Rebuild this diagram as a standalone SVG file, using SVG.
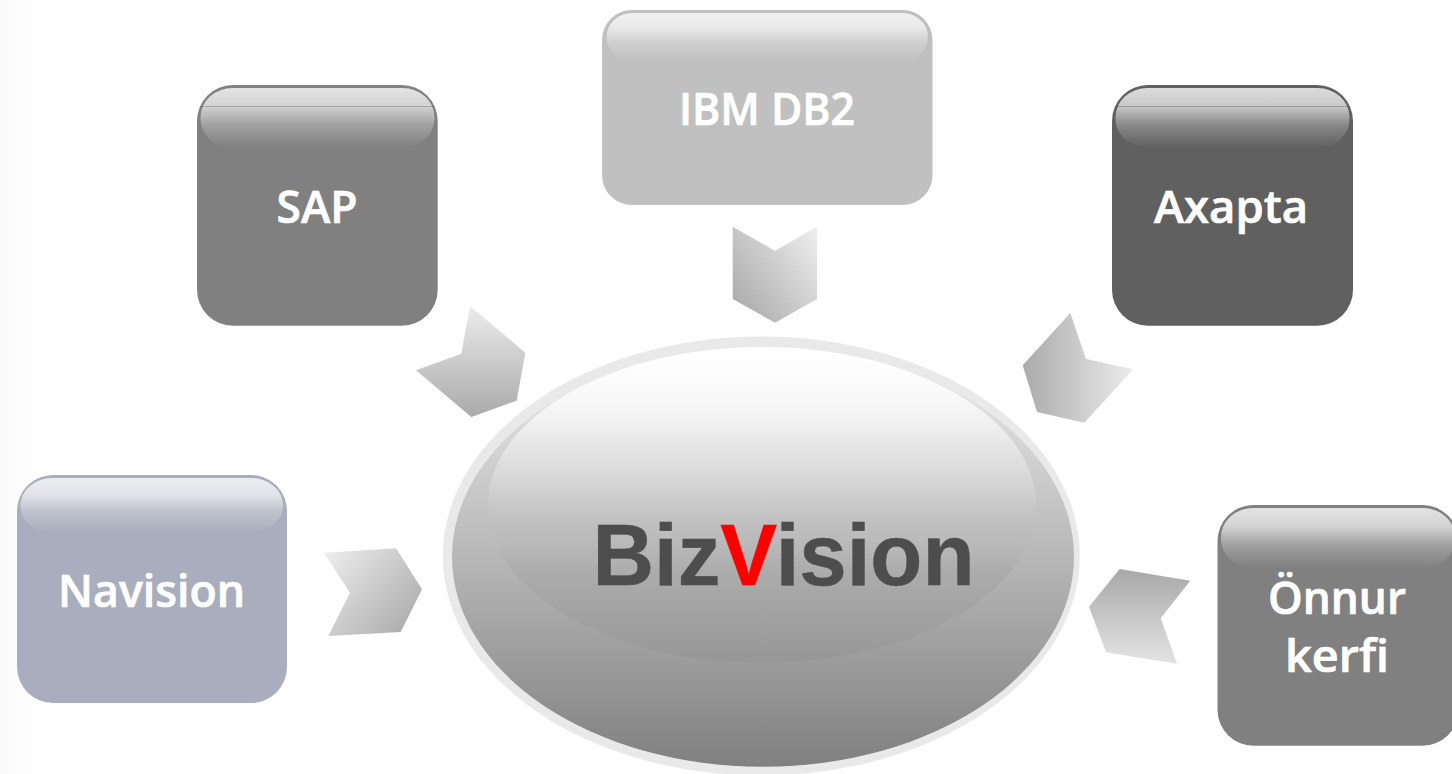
<svg xmlns="http://www.w3.org/2000/svg" width="1452" height="774" viewBox="0 0 1452 774">
<style>
.label{font-family:"Open Sans","Noto Sans","Liberation Sans",sans-serif;font-weight:600;font-size:45px;fill:#fff;stroke:#fff;stroke-width:.7;text-anchor:start}
.brand{font-family:"Liberation Sans",Arial,sans-serif;font-weight:700;font-size:86.5px;fill:#4d4d4d;stroke:#4d4d4d;stroke-width:.5}
.brand tspan{fill:#ff0000;stroke:#ff0000}
.gloss{fill:url(#gloss)}
.rule{stroke:#000;stroke-opacity:.22;stroke-width:1}
</style>
<defs>
<linearGradient id="page" x1="0" x2="1" y1="0" y2="0"><stop offset="0" stop-color="#fafafa"/><stop offset="1" stop-color="#fff"/></linearGradient>
<linearGradient id="gloss" x1="0" x2="0" y1="0" y2="1"><stop offset="0" stop-color="#fff" stop-opacity=".78"/><stop offset=".3" stop-color="#fff" stop-opacity=".66"/><stop offset=".62" stop-color="#fff" stop-opacity=".25"/><stop offset="1" stop-color="#fff" stop-opacity="0"/></linearGradient>
<linearGradient id="main" x1="0" x2="0" y1="0" y2="1"><stop offset="0" stop-color="#eee"/><stop offset="1" stop-color="#808080"/></linearGradient>
<linearGradient id="lens" x1="0" x2="0" y1="0" y2="1"><stop offset="0" stop-color="#fff"/><stop offset=".168" stop-color="#fff" stop-opacity=".77"/><stop offset=".326" stop-color="#fff" stop-opacity=".39"/><stop offset=".484" stop-color="#fff" stop-opacity=".1"/><stop offset=".61" stop-color="#888" stop-opacity=".02"/><stop offset=".705" stop-color="#000" stop-opacity=".04"/><stop offset="1" stop-color="#000" stop-opacity=".03"/></linearGradient>
<linearGradient id="aSap" x1="0" x2="0" y1="0" y2="1"><stop offset="0" stop-color="#ececec"/><stop offset="1" stop-color="#aaa"/></linearGradient>
<linearGradient id="aIbm" x1="1" x2="0" y1="0.1" y2="0.9"><stop offset="0" stop-color="#ececec"/><stop offset="1" stop-color="#a8a8a8"/></linearGradient>
<linearGradient id="aAxa" x1="1" x2="0" y1="0" y2="0"><stop offset="0" stop-color="#ececec"/><stop offset="1" stop-color="#aaa"/></linearGradient>
<linearGradient id="aNav" x1="0" x2="1" y1="0.1" y2="0.9"><stop offset="0" stop-color="#ececec"/><stop offset="1" stop-color="#a8a8a8"/></linearGradient>
<linearGradient id="aOnn" x1="0" x2="0" y1="0" y2="1"><stop offset="0" stop-color="#a8a8a8"/><stop offset="1" stop-color="#e4e4e4"/></linearGradient>
</defs>
<rect id="page-bg" width="1452" height="774" fill="#fff"/>
<rect width="40" height="774" fill="url(#page)"/>
<g id="connectors">
<polygon fill="url(#aSap)" points="470,306 525.3,352.7 516.7,400.7 471.3,417 416,370.3 461.3,353.7"/>
<polygon fill="url(#aIbm)" points="732.7,226.7 775,250.7 817,226.7 817,299 775,322.7 732.7,299"/>
<polygon fill="url(#aAxa)" points="1070.3,313 1086,359 1133.3,369.3 1084.3,422.7 1037,412 1022.7,365.3"/>
<polygon fill="url(#aNav)" points="324,552.7 396,548.3 422,589.3 400.7,632 328.3,636 350,592.7"/>
<polygon fill="url(#aOnn)" points="1119.7,569 1190.3,580.7 1160.7,618.3 1177,663.7 1106,652.3 1089,606.7"/>
</g>
<g id="node-bizvision">
<ellipse cx="761.3" cy="556" rx="318.5" ry="219.5" fill="#e9e9e9"/>
<ellipse cx="763" cy="556.7" rx="311" ry="210" fill="url(#main)"/>
<ellipse cx="762" cy="505" rx="274" ry="158" fill="url(#lens)"/>
<text class="brand" x="592.5" y="585" textLength="382" lengthAdjust="spacingAndGlyphs">Biz<tspan>V</tspan>ision</text>
</g>
<g id="node-sap">
<rect x="197" y="85" width="240.7" height="240.7" rx="36" fill="#808080"/>
<rect class="gloss" x="200.5" y="88" width="234" height="60" rx="32" ry="29"/>
<line class="rule" x1="201" x2="434" y1="106.5" y2="106.5"/>
<text class="label" x="276.5" y="222.7" textLength="81" lengthAdjust="spacingAndGlyphs">SAP</text>
</g>
<g id="node-ibm-db2">
<rect x="602" y="10" width="330.5" height="195" rx="30" fill="#c0c0c0"/>
<rect class="gloss" x="606.5" y="13" width="321.5" height="48" rx="26" ry="24"/>
<text class="label" x="679" y="125" textLength="176" lengthAdjust="spacingAndGlyphs">IBM DB2</text>
</g>
<g id="node-axapta">
<rect x="1112" y="85" width="241" height="240.7" rx="36" fill="#606060"/>
<rect class="gloss" x="1115.5" y="88" width="234" height="60" rx="32" ry="29"/>
<line class="rule" x1="1116" x2="1349" y1="106.5" y2="106.5"/>
<text class="label" x="1154" y="222.7" textLength="154" lengthAdjust="spacingAndGlyphs">Axapta</text>
</g>
<g id="node-navision">
<rect x="17" y="475" width="270" height="228" rx="36" fill="#a8aebd"/>
<rect class="gloss" x="20.5" y="478" width="262.5" height="55" rx="32" ry="27"/>
<text class="label" x="58" y="606.7" textLength="187" lengthAdjust="spacingAndGlyphs">Navision</text>
</g>
<g id="node-onnur-kerfi">
<rect x="1217.5" y="505" width="241" height="240.7" rx="36" fill="#808080"/>
<rect class="gloss" x="1221" y="508" width="234" height="60" rx="32" ry="29"/>
<text class="label" x="1268" y="614" textLength="138" lengthAdjust="spacingAndGlyphs">Önnur</text>
<text class="label" x="1285" y="671.7" textLength="104" lengthAdjust="spacingAndGlyphs">kerfi</text>
</g>
</svg>
